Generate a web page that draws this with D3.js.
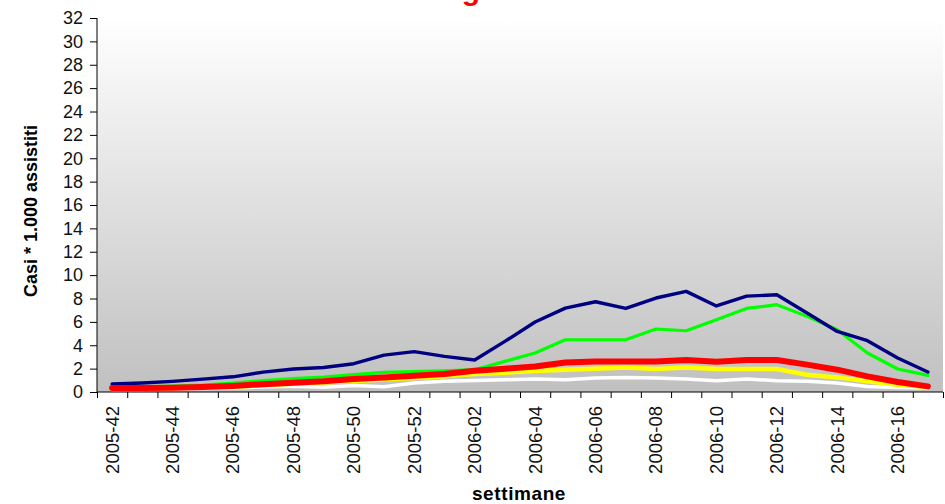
<!DOCTYPE html>
<html>
<head>
<meta charset="utf-8">
<script src="https://cdn.jsdelivr.net/npm/d3@7"></script>
<style>
  html, body { margin: 0; padding: 0; background: #ffffff; }
  svg { display: block; font-family: "Liberation Sans", Arial, sans-serif; }
</style>
</head>
<body>
<svg id="chart" width="945" height="504"></svg>
<script>
const weeks = ["2005-42","2005-43","2005-44","2005-45","2005-46","2005-47","2005-48","2005-49","2005-50","2005-51","2005-52",
  "2006-01","2006-02","2006-03","2006-04","2006-05","2006-06","2006-07","2006-08","2006-09","2006-10",
  "2006-11","2006-12","2006-13","2006-14","2006-15","2006-16","2006-17"];
const yTicks = [0,2,4,6,8,10,12,14,16,18,20,22,24,26,28,30,32];

const blueSeries   = [0.68,0.77,0.91,1.10,1.30,1.70,1.97,2.10,2.42,3.16,3.45,3.05,2.74,4.33,5.99,7.18,7.72,7.15,8.04,8.61,7.36,8.20,8.32,6.76,5.18,4.39,2.91,1.71];
const greenSeries  = [0.40,0.45,0.50,0.60,0.77,0.97,1.14,1.28,1.48,1.68,1.74,1.82,1.91,2.62,3.34,4.47,4.47,4.47,5.39,5.24,6.18,7.15,7.47,6.47,5.33,3.34,1.97,1.42];
const redSeries    = [0.34,0.35,0.37,0.42,0.52,0.67,0.80,0.91,1.11,1.25,1.39,1.54,1.82,1.99,2.19,2.53,2.62,2.62,2.62,2.74,2.59,2.74,2.74,2.34,1.91,1.34,0.86,0.48];
const yellowSeries = [0.30,0.32,0.34,0.38,0.45,0.57,0.70,0.82,0.95,1.08,1.20,1.35,1.55,1.65,1.80,1.91,1.99,2.10,1.97,2.10,1.97,1.97,1.97,1.48,1.25,0.91,0.62,0.43];
const whiteSeries  = [0.20,0.22,0.25,0.30,0.35,0.42,0.50,0.40,0.55,0.45,0.77,0.91,0.99,1.05,1.11,1.05,1.20,1.25,1.20,1.11,0.97,1.11,0.97,0.91,0.77,0.48,0.39,0.34];

const series = [
  { values: greenSeries,  color: "#00ff00", width: 3.2 },
  { values: blueSeries,   color: "#000080", width: 3.4 },
  { values: whiteSeries,  color: "#ffffff", width: 3.5 },
  { values: yellowSeries, color: "#ffff00", width: 4.5 },
  { values: redSeries,    color: "#ff0000", width: 6 }
];

const svg = d3.select("#chart");
const pLeft = 97, pRight = 943, pTop = 18, pBottom = 392;

const x = d3.scaleBand().domain(weeks).range([pLeft, pRight]).paddingInner(0).paddingOuter(0);
const xIdx = d3.scaleLinear().domain([0, weeks.length]).range([pLeft, pRight]);
const y = d3.scaleLinear().domain([0, 32]).range([pBottom, pTop]);

// background gradient
const defs = svg.append("defs");
const grad = defs.append("linearGradient").attr("id", "bg").attr("x1", 0).attr("y1", 0).attr("x2", 0).attr("y2", 1);
grad.append("stop").attr("offset", "0%").attr("stop-color", "#ffffff");
grad.append("stop").attr("offset", "100%").attr("stop-color", "#c0c0c0");
svg.append("rect").attr("x", pLeft).attr("y", pTop).attr("width", pRight - pLeft).attr("height", pBottom - pTop).attr("fill", "url(#bg)");

// title fragment (cut off at top, as in the reference)
svg.append("text").attr("x", 471).attr("y", 0).attr("text-anchor", "middle")
  .attr("font-size", 30).attr("font-weight", "bold").attr("fill", "#ff0000").text("g");

// lines
const line = d3.line()
  .x((d, i) => x(weeks[i]) + x.bandwidth() / 2)
  .y(d => y(d));
series.forEach(s => {
  svg.append("path").datum(s.values)
    .attr("d", line)
    .attr("fill", "none")
    .attr("stroke", s.color)
    .attr("stroke-width", s.width)
    .attr("stroke-linejoin", "round")
    .attr("stroke-linecap", "round");
});

// y axis
const yAxis = svg.append("g").attr("transform", `translate(${pLeft},0)`)
  .call(d3.axisLeft(y).tickValues(yTicks).tickSize(7).tickPadding(7).tickFormat(d3.format("d")));
yAxis.selectAll("text").attr("font-size", 18).attr("fill", "#111").attr("font-family", "Liberation Sans, Arial, sans-serif");
yAxis.selectAll("line").attr("stroke", "#000");
yAxis.select(".domain").attr("stroke", "#000").attr("d", `M0,${pTop}V${pBottom}`);

// x axis boundary ticks
const xTickAxis = svg.append("g").attr("transform", `translate(0,${pBottom})`)
  .call(d3.axisBottom(xIdx).tickValues(d3.range(weeks.length + 1)).tickSize(6).tickFormat(""));
xTickAxis.selectAll("line").attr("stroke", "#000");
xTickAxis.select(".domain").attr("stroke", "#000").attr("d", `M${pLeft},0H${pRight}`);

// x labels
const xLab = svg.append("g").attr("transform", `translate(0,${pBottom})`)
  .call(d3.axisBottom(x).tickValues(weeks.filter((d, i) => i % 2 === 0)).tickSize(0));
xLab.select(".domain").remove();
xLab.selectAll("text")
  .attr("transform", "rotate(-90)")
  .attr("x", -14).attr("y", 0).attr("dy", "0.35em")
  .attr("text-anchor", "end")
  .attr("font-size", 18.5).attr("fill", "#111")
  .attr("font-family", "Liberation Sans, Arial, sans-serif");

// axis titles
svg.append("text").attr("transform", "translate(37,211) rotate(-90)")
  .attr("text-anchor", "middle").attr("font-size", 18).attr("font-weight", "bold").attr("fill", "#000")
  .text("Casi * 1.000 assistiti");
svg.append("text").attr("x", 519).attr("y", 500)
  .attr("text-anchor", "middle").attr("font-size", 19).attr("font-weight", "bold").attr("fill", "#000")
  .attr("letter-spacing", 0.6)
  .text("settimane");
</script>
</body>
</html>
